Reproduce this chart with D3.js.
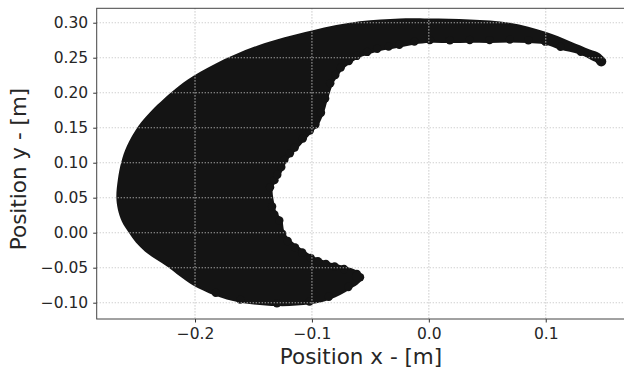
<!DOCTYPE html>
<html>
<head>
<meta charset="utf-8">
<script src="https://cdn.jsdelivr.net/npm/d3@7"></script>
<style>
  body { margin: 0; background: #fff; }
  svg text { font-family: "DejaVu Sans", sans-serif; fill: #262626; }
</style>
</head>
<body>
<svg width="624" height="371"></svg>
<script>
// outer edge of the point cloud, from the top tip round the left to the bottom tip
const outerX = [0.1514, 0.1463, 0.1377, 0.1206, 0.0998, 0.0693, 0.0351, 0.0, -0.0248, -0.059, -0.100, -0.1463, -0.1822, -0.2062, -0.2198, -0.2387, -0.2485, -0.2583, -0.2630, -0.2660, -0.2673, -0.2660, -0.2626, -0.2566, -0.2506, -0.2429, -0.2335, -0.2233, -0.2130, -0.2019, -0.1831, -0.1617, -0.130, -0.1018, -0.0847, -0.0676, -0.0573]
const outerY = [0.2447, 0.2561, 0.2619, 0.2737, 0.2871, 0.300, 0.3047, 0.3061, 0.3061, 0.302, 0.289, 0.2676, 0.2419, 0.219, 0.2014, 0.1719, 0.1523, 0.1237, 0.1014, 0.0761, 0.0509, 0.0333, 0.0161, 0.0, -0.0139, -0.0267, -0.0381, -0.0491, -0.0624, -0.075, -0.0896, -0.0996, -0.1049, -0.1024, -0.0953, -0.081, -0.0667]
// inner (ragged) edge, from the bottom tip back up to the top tip
const innerX = [-0.0607, -0.0718, -0.0800, -0.0873, -0.0940, -0.100, -0.1070, -0.1129, -0.1190, -0.1232, -0.1257, -0.1300, -0.1317, -0.1334, -0.1300, -0.1275, -0.1240, -0.1215, -0.1170, -0.1129, -0.1060, -0.100, -0.095, -0.0900, -0.0864, -0.0821, -0.0780, -0.0736, -0.0670, -0.0607, -0.0520, -0.0436, -0.0340, -0.0248, -0.0120, 0.001, 0.018, 0.035, 0.052, 0.0693, 0.0850, 0.0992, 0.112, 0.1292, 0.1446]
const innerY = [-0.0553, -0.048, -0.0445, -0.041, -0.0370, -0.0324, -0.0250, -0.0181, -0.0090, 0.0, 0.019, 0.0280, 0.038, 0.0647, 0.0730, 0.0809, 0.0920, 0.1023, 0.1110, 0.119, 0.1320, 0.1433, 0.1523, 0.1700, 0.1904, 0.2119, 0.2230, 0.2333, 0.2420, 0.249, 0.2545, 0.259, 0.2620, 0.2647, 0.2690, 0.2714, 0.2710, 0.2714, 0.2712, 0.2719, 0.2710, 0.269, 0.2619, 0.2547, 0.2433]

const xTicks = [-0.2, -0.1, 0.0, 0.1]
const yTicks = [-0.10, -0.05, 0.00, 0.05, 0.10, 0.15, 0.20, 0.25, 0.30]

const margin = {top: 8.3, right: -1, bottom: 52, left: 96.7}
const width = 624
const height = 371

const x = d3.scaleLinear()
  .domain([-0.2841, 0.1678])
  .range([margin.left, width - margin.right])
const y = d3.scaleLinear()
  .domain([-0.1233, 0.3206])
  .range([height - margin.bottom, margin.top])

const svg = d3.select('svg')
const ink = '#141414'
const minus = s => s.replace('-', '\u2212')

svg.append('defs').append('clipPath').attr('id', 'plot')
  .append('rect')
  .attr('x', margin.left).attr('y', margin.top)
  .attr('width', width - margin.right - margin.left)
  .attr('height', height - margin.bottom - margin.top)

const outer = outerX.map((v, i) => [v, outerY[i]])
const inner = innerX.map((v, i) => [v, innerY[i]])

const body = svg.append('g').attr('clip-path', 'url(#plot)')

body.append('path')
  .datum(outer.concat(inner))
  .attr('d', d3.line()
    .x(d => x(d[0]))
    .y(d => y(d[1]))
    .curve(d3.curveCatmullRomClosed))
  .attr('fill', ink)

// dots along the ragged edges, nudged a little into the filled side
const r = 4.2
function edgeDots(pts) {
  return pts.map((p, i) => {
    const a = pts[Math.max(i - 1, 0)], b = pts[Math.min(i + 1, pts.length - 1)]
    const dx = x(b[0]) - x(a[0]), dy = y(b[1]) - y(a[1])
    const len = Math.hypot(dx, dy) || 1
    return [x(p[0]) + dy / len * 2.8, y(p[1]) - dx / len * 2.8]
  })
}
const dots = edgeDots(inner).concat(edgeDots(outer).slice(30))

body.selectAll('circle.dot')
  .data(dots)
  .join('circle')
  .classed('dot', true)
  .attr('cx', d => d[0])
  .attr('cy', d => d[1])
  .attr('r', r)
  .attr('fill', ink)

// round ends at both tips
body.selectAll('circle.tip')
  .data([[0.1475, 0.2445], [-0.0615, -0.0625]])
  .join('circle')
  .classed('tip', true)
  .attr('cx', d => x(d[0]))
  .attr('cy', d => y(d[1]))
  .attr('r', 5)
  .attr('fill', ink)

// dotted grid sits on top of the points
const grid = svg.append('g')
  .attr('stroke', '#c4c4c4')
  .attr('stroke-width', 1.1)
  .attr('stroke-dasharray', '1.1,1.9')
grid.selectAll('line.gx')
  .data(xTicks)
  .join('line')
  .classed('gx', true)
  .attr('x1', d => x(d)).attr('x2', d => x(d))
  .attr('y1', margin.top).attr('y2', height - margin.bottom)
grid.selectAll('line.gy')
  .data(yTicks)
  .join('line')
  .classed('gy', true)
  .attr('x1', margin.left).attr('x2', width - margin.right)
  .attr('y1', d => y(d)).attr('y2', d => y(d))

const xAxis = g => g
  .attr('transform', `translate(0, ${height - margin.bottom})`)
  .call(d3.axisBottom(x).tickValues(xTicks).tickSize(3.5).tickPadding(5)
    .tickFormat(d => minus(d3.format('.1f')(d))))

const yAxis = g => g
  .attr('transform', `translate(${margin.left}, 0)`)
  .call(d3.axisLeft(y).tickValues(yTicks).tickSize(3.5).tickPadding(5)
    .tickFormat(d => minus(d3.format('.2f')(d))))

svg.append('g').call(xAxis)
svg.append('g').call(yAxis)
svg.selectAll('.tick line').attr('stroke', '#333')
svg.selectAll('.tick text').attr('font-size', 15.5).attr('fill', '#262626')
svg.selectAll('.domain').remove()

// frame
svg.append('rect')
  .attr('x', margin.left).attr('y', margin.top)
  .attr('width', width - margin.right - margin.left)
  .attr('height', height - margin.bottom - margin.top)
  .attr('fill', 'none')
  .attr('stroke', '#444')
  .attr('stroke-width', 1)

svg.append('text')
  .attr('x', 361).attr('y', 364)
  .attr('text-anchor', 'middle')
  .attr('font-size', 21.5)
  .text('Position x - [m]')

svg.append('text')
  .attr('transform', 'translate(26, 169) rotate(-90)')
  .attr('text-anchor', 'middle')
  .attr('font-size', 21.5)
  .text('Position y - [m]')
</script>
</body>
</html>
